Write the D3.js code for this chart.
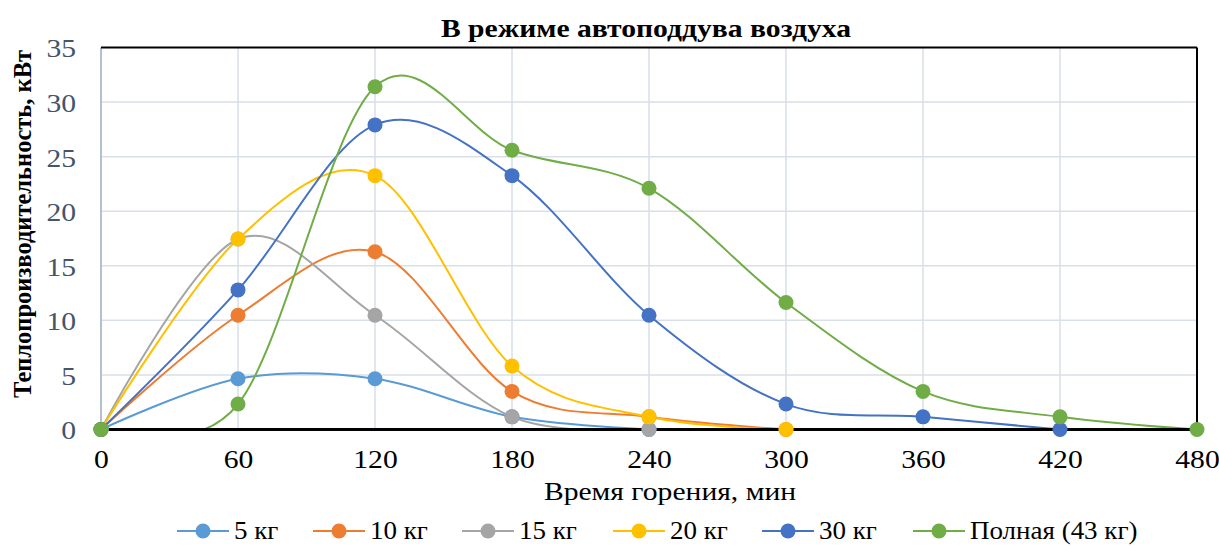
<!DOCTYPE html>
<html>
<head>
<meta charset="utf-8">
<script src="https://cdn.jsdelivr.net/npm/d3@7"></script>
<style>
  html, body { margin: 0; padding: 0; background: #fff; }
  svg { display: block; }
  svg text { font-family: "Liberation Serif", "Times New Roman", "DejaVu Serif", serif; }
</style>
</head>
<body>
<svg id="chart" width="1219" height="546"></svg>
<script>
// Burning time, minutes
const times = [0, 60, 120, 180, 240, 300, 360, 420, 480];
const xTicks = [0, 60, 120, 180, 240, 300, 360, 420, 480];
const yTicks = [0, 5, 10, 15, 20, 25, 30, 35];

// Heat output, kW (per fuel load)
const load5  = [0, 4.65, 4.65, 1.16, 0];
const load10 = [0, 10.47, 16.28, 3.49, 1.16, 0];
const load15 = [0, 17.45, 10.47, 1.16, 0];
const load20 = [0, 17.45, 23.26, 5.81, 1.16, 0];
const load30 = [0, 12.79, 27.91, 23.26, 10.47, 2.33, 1.16, 0];
const loadFull = [0, 2.33, 31.4, 25.59, 22.1, 11.63, 3.49, 1.16, 0];

const seriesNames = ["5 кг", "10 кг", "15 кг", "20 кг", "30 кг", "Полная (43 кг)"];
const seriesValues = [load5, load10, load15, load20, load30, loadFull];
const seriesColors = ["#5B9BD5", "#ED7D31", "#A5A5A5", "#FFC000", "#4472C4", "#70AD47"];

const svg = d3.select("#chart");

const plot = { left: 101, right: 1197, top: 47.5, bottom: 429.5 };
const stretch = 1.14; // horizontal widening of the lettering

const x = d3.scaleLinear().domain([0, 480]).range([plot.left, plot.right]);
const y = d3.scaleLinear().domain([0, 35]).range([plot.bottom, plot.top]);

// Clip series lines to the plot area
svg.append("defs").append("clipPath").attr("id", "plotClip")
  .append("rect")
  .attr("x", plot.left).attr("y", plot.top)
  .attr("width", plot.right - plot.left).attr("height", plot.bottom - plot.top);

// Gridlines
const grid = svg.append("g");
grid.selectAll("line.h").data(yTicks.filter(d => d > 0 && d < 35)).join("line")
  .attr("x1", plot.left).attr("x2", plot.right)
  .attr("y1", d => y(d)).attr("y2", d => y(d))
  .attr("stroke", "#D9DFE8").attr("stroke-width", 1.5);
grid.selectAll("line.v").data(xTicks.filter(d => d > 0 && d < 480)).join("line")
  .attr("x1", d => x(d)).attr("x2", d => x(d))
  .attr("y1", plot.top).attr("y2", plot.bottom)
  .attr("stroke", "#D9DFE8").attr("stroke-width", 1.5);

// Frame: light left axis, dark top/right borders
svg.append("line").attr("x1", plot.left).attr("x2", plot.left)
  .attr("y1", plot.top).attr("y2", plot.bottom)
  .attr("stroke", "#B4BFCF").attr("stroke-width", 2);
svg.append("line").attr("x1", plot.left).attr("x2", plot.right)
  .attr("y1", plot.top).attr("y2", plot.top)
  .attr("stroke", "#000").attr("stroke-width", 2);
svg.append("line").attr("x1", plot.right).attr("x2", plot.right)
  .attr("y1", plot.top).attr("y2", plot.bottom)
  .attr("stroke", "#000").attr("stroke-width", 2);

// Axes
const xAxis = d3.axisBottom(x).tickValues(xTicks).tickSize(0).tickPadding(20);
const gx = svg.append("g").attr("transform", `translate(0,${plot.bottom})`).call(xAxis);
gx.select(".domain").remove();
gx.attr("font-family", null);
gx.selectAll("text").attr("font-size", 26).attr("fill", "#000")
  .attr("transform", `scale(${stretch},1)`);

const yAxis = d3.axisLeft(y).tickValues(yTicks).tickSize(0).tickPadding(25);
const gy = svg.append("g").attr("transform", `translate(${plot.left},0)`).call(yAxis);
gy.select(".domain").remove();
gy.attr("font-family", null);
gy.selectAll("text").attr("font-size", 26).attr("fill", "#44546A")
  .attr("dy", "0.36em");
gy.selectAll(".tick text").each(function () {
  // widen each label from its right edge
  d3.select(this).attr("transform", `translate(-25,0) scale(${stretch},1) translate(25,0)`);
});

// Series lines (smoothed)
const line = d3.line()
  .x((d, i) => x(times[i]))
  .y(d => y(d))
  .curve(d3.curveCardinal.tension(0));

const lines = svg.append("g").attr("clip-path", "url(#plotClip)");
seriesValues.forEach((vals, k) => {
  lines.append("path")
    .attr("d", line(vals))
    .attr("fill", "none")
    .attr("stroke", seriesColors[k])
    .attr("stroke-width", 2);
});

// Bottom axis line
svg.append("line").attr("x1", plot.left).attr("x2", plot.right)
  .attr("y1", plot.bottom).attr("y2", plot.bottom)
  .attr("stroke", "#000").attr("stroke-width", 3);

// Markers
const markers = svg.append("g");
seriesValues.forEach((vals, k) => {
  markers.append("g").selectAll("circle").data(vals).join("circle")
    .attr("cx", (d, i) => x(times[i]))
    .attr("cy", d => y(d))
    .attr("r", 7.5)
    .attr("fill", seriesColors[k]);
});

// Title
svg.append("text")
  .attr("transform", `translate(646,37) scale(${stretch},1)`)
  .attr("text-anchor", "middle")
  .attr("font-weight", "bold").attr("font-size", 26)
  .text("В режиме автоподдува воздуха");

// Axis titles
svg.append("text")
  .attr("transform", `translate(670,500) scale(${stretch},1)`)
  .attr("text-anchor", "middle")
  .attr("font-size", 26)
  .text("Время горения, мин");

svg.append("text")
  .attr("transform", "translate(31,224) rotate(-90)")
  .attr("text-anchor", "middle")
  .attr("font-weight", "bold").attr("font-size", 24.5)
  .text("Теплопроизводительность, кВт");

// Legend
const legendX = [177, 313, 462, 613, 762, 913];
const legendY = 531;
const legend = svg.append("g");
seriesNames.forEach((name, k) => {
  const g = legend.append("g").attr("transform", `translate(${legendX[k]},${legendY})`);
  g.append("line").attr("x1", 0).attr("x2", 52).attr("y1", 0).attr("y2", 0)
    .attr("stroke", seriesColors[k]).attr("stroke-width", 2);
  g.append("circle").attr("cx", 26).attr("cy", 0).attr("r", 7.5).attr("fill", seriesColors[k]);
  g.append("text").attr("transform", "translate(57,0) scale(1.08,1)")
    .attr("dy", "0.33em")
    .attr("font-size", 25).text(name);
});
</script>
</body>
</html>
